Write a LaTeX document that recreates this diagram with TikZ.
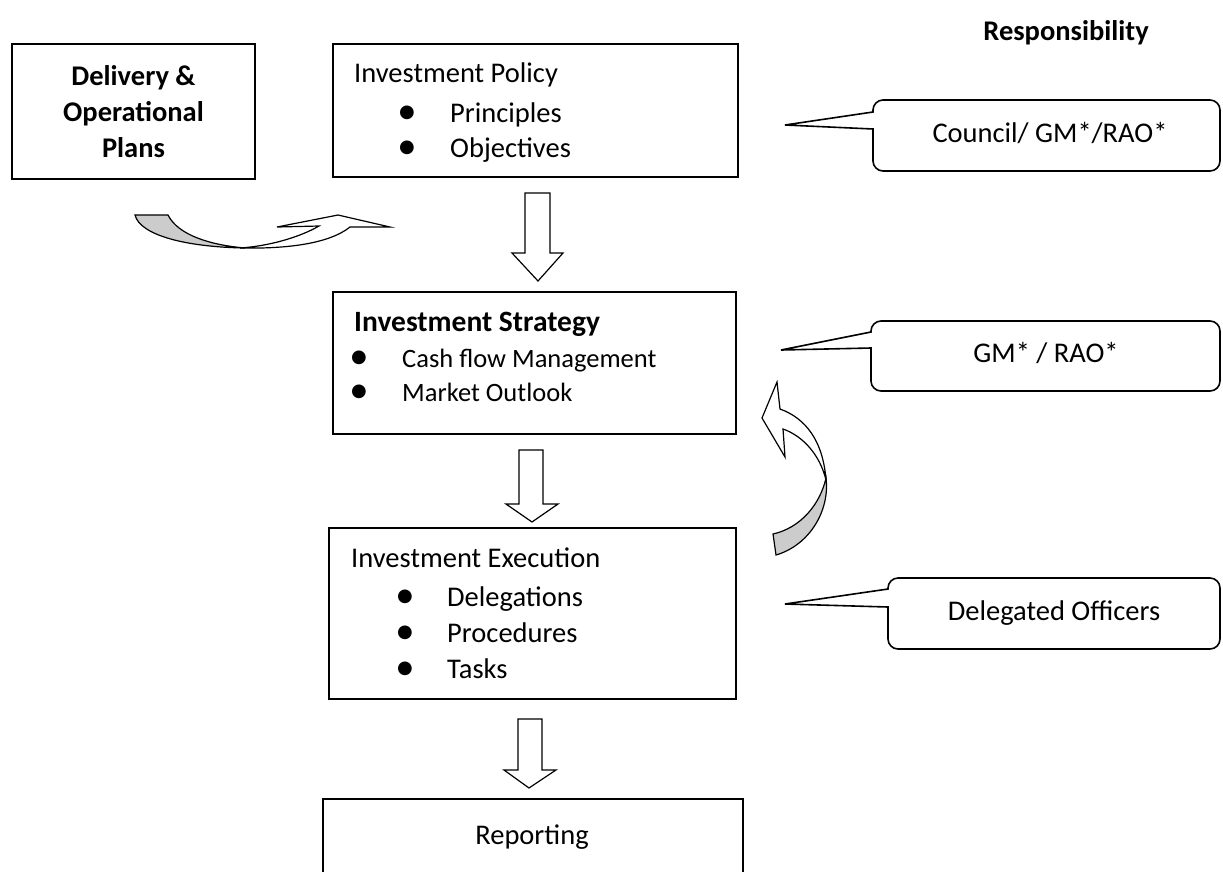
\documentclass[tikz,border=0pt]{standalone}
\usepackage{fontspec}
\setmainfont{Carlito}
\newfontfamily\dejavu{DejaVu Sans}
\usetikzlibrary{calc}
\definecolor{backgray}{RGB}{204,204,204}
\newcommand\fmain{\fontsize{28.5}{36}\selectfont}
\newcommand\fstrat{\fontsize{26.5}{32}\selectfont}
\newcommand\fstitle{\fontsize{29.5}{34}\selectfont}
\newcommand\bul{{\dejavu\fontsize{18}{18}\selectfont ●}}
% #1 left x, #2 top y, #3 bottom y, #4 tip x, #5 tip y, #6 upper base y, #7 lower base y
\newcommand\mycallout[7]{%
  \draw[callout] (#1,#6) -- (#4,#5) -- (#1,#7) -- (#1,{#3-10})
    .. controls (#1,{#3-4.5}) and ({#1+4.5},#3) .. ({#1+10},#3)
    -- (1210,#3) .. controls (1215.5,#3) and (1220,{#3-4.5}) .. (1220,{#3-10})
    -- (1220,{#2+10}) .. controls (1220,{#2+4.5}) and (1215.5,#2) .. (1210,#2)
    -- ({#1+10},#2) .. controls ({#1+4.5},#2) and (#1,{#2+4.5}) .. (#1,{#2+10})
    -- cycle;}
\begin{document}
\begin{tikzpicture}[x=1pt,y=-1pt,
  box/.style={draw,line width=1.6pt,inner sep=0pt},
  lbl/.style={inner sep=0pt,anchor=base west,font=\fmain},
  slbl/.style={inner sep=0pt,anchor=base west,font=\fstrat},
  bullet/.style={inner sep=0pt,anchor=center},
  callout/.style={draw,line width=1.6pt,fill=white,line join=miter},
  blk/.style={draw,line width=1.2pt,fill=white,line join=miter},
  curv/.style={draw,line width=1.2pt,line join=miter}
]
\useasboundingbox (0,0) rectangle (1223,871);

% ---------- boxes ----------
\node[box,minimum width=243pt,minimum height=135pt] (deliv) at (133.5,111.5) {};
\node[inner sep=0pt,align=center,font=\bfseries\fmain] (delivtxt) at (133.5,112) {Delivery \&\\Operational\\Plans};

\node[box,minimum width=405pt,minimum height=133pt] (policy) at (535.5,110.5) {};
\node[lbl] (poltitle) at (354,82) {Investment Policy};
\node[bullet] (pb1) at (407,113) {\bul};
\node[lbl] (pt1) at (450,122) {Principles};
\node[bullet] (pb2) at (407,148) {\bul};
\node[lbl] (pt2) at (450,157) {Objectives};

\node[box,minimum width=403pt,minimum height=142pt] (strategy) at (534.5,363) {};
\node[slbl,font=\bfseries\fstitle] (sttitle) at (354,331) {Investment Strategy};
\node[bullet] (sb1) at (359,358) {\bul};
\node[slbl] (st1) at (402,367) {Cash flow Management};
\node[bullet] (sb2) at (359,392) {\bul};
\node[slbl] (st2) at (402,401) {Market Outlook};

\node[box,minimum width=407pt,minimum height=171pt] (execution) at (532.5,613.5) {};
\node[lbl] (extitle) at (351,567) {Investment Execution};
\node[bullet] (eb1) at (405,597) {\bul};
\node[lbl] (et1) at (447,606) {Delegations};
\node[bullet] (eb2) at (405,633) {\bul};
\node[lbl] (et2) at (447,642) {Procedures};
\node[bullet] (eb3) at (405,669) {\bul};
\node[lbl] (et3) at (447,678) {Tasks};

\node[box,minimum width=420pt,minimum height=102pt] (reporting) at (533,850) {};
\node[inner sep=0pt,anchor=base,font=\fmain] (reptxt) at (532,844) {Reporting};

% ---------- responsibility column ----------
\node[inner sep=0pt,anchor=base,font=\bfseries\fmain] (resp) at (1066,40) {Responsibility};

\mycallout{873}{100}{171}{785}{125}{112}{129}
\node[inner sep=0pt,anchor=base,font=\fmain] (c1) at (1050,142) {Council/ GM*/RAO*};

\mycallout{871}{321}{391}{781}{350}{332}{348}
\node[inner sep=0pt,anchor=base,font=\fmain] (c2) at (1046,362) {GM* / RAO*};

\mycallout{888}{578}{649}{785}{604}{589}{607}
\node[inner sep=0pt,anchor=base,font=\fmain] (c3) at (1054,620) {Delegated Officers};

% ---------- block arrows ----------
\draw[blk] (525,193) -- (550,193) -- (550,253) -- (563,253) -- (538,281) -- (512,253) -- (525,253) -- cycle;
\draw[blk] (519,450) -- (543,450) -- (543,504) -- (558,504) -- (532,522) -- (506,504) -- (519,504) -- cycle;
\draw[blk] (518,719) -- (542,719) -- (542,770) -- (556,770) -- (529,788) -- (504,770) -- (518,770) -- cycle;

% ---------- curved arrow (left, pointing right/up) ----------
\draw[curv,fill=backgray] (135,215) -- (168,215) .. controls (178,235) and (210,245) .. (245,248)
   .. controls (185,247) and (140,235) .. (135,215) -- cycle;
\draw[curv,fill=white] (240,248) .. controls (270,246) and (300,237) .. (319,226)
   -- (277,227) -- (338,215) -- (390,227) -- (350,227)
   .. controls (330,243) and (290,249) .. (240,248) -- cycle;

% ---------- curved arrow (right, pointing up-left) ----------
\draw[curv,fill=backgray] (826,478) .. controls (830,510) and (810,545) .. (776,555)
   -- (773,534) .. controls (800,528) and (820,505) .. (826,478) -- cycle;
\draw[curv,fill=white] (777,382) -- (762,418) -- (785,457) -- (783,429)
   .. controls (803,436) and (820,455) .. (826,480)
   .. controls (823,440) and (805,418) .. (780,409) -- cycle;
\end{tikzpicture}
\end{document}
